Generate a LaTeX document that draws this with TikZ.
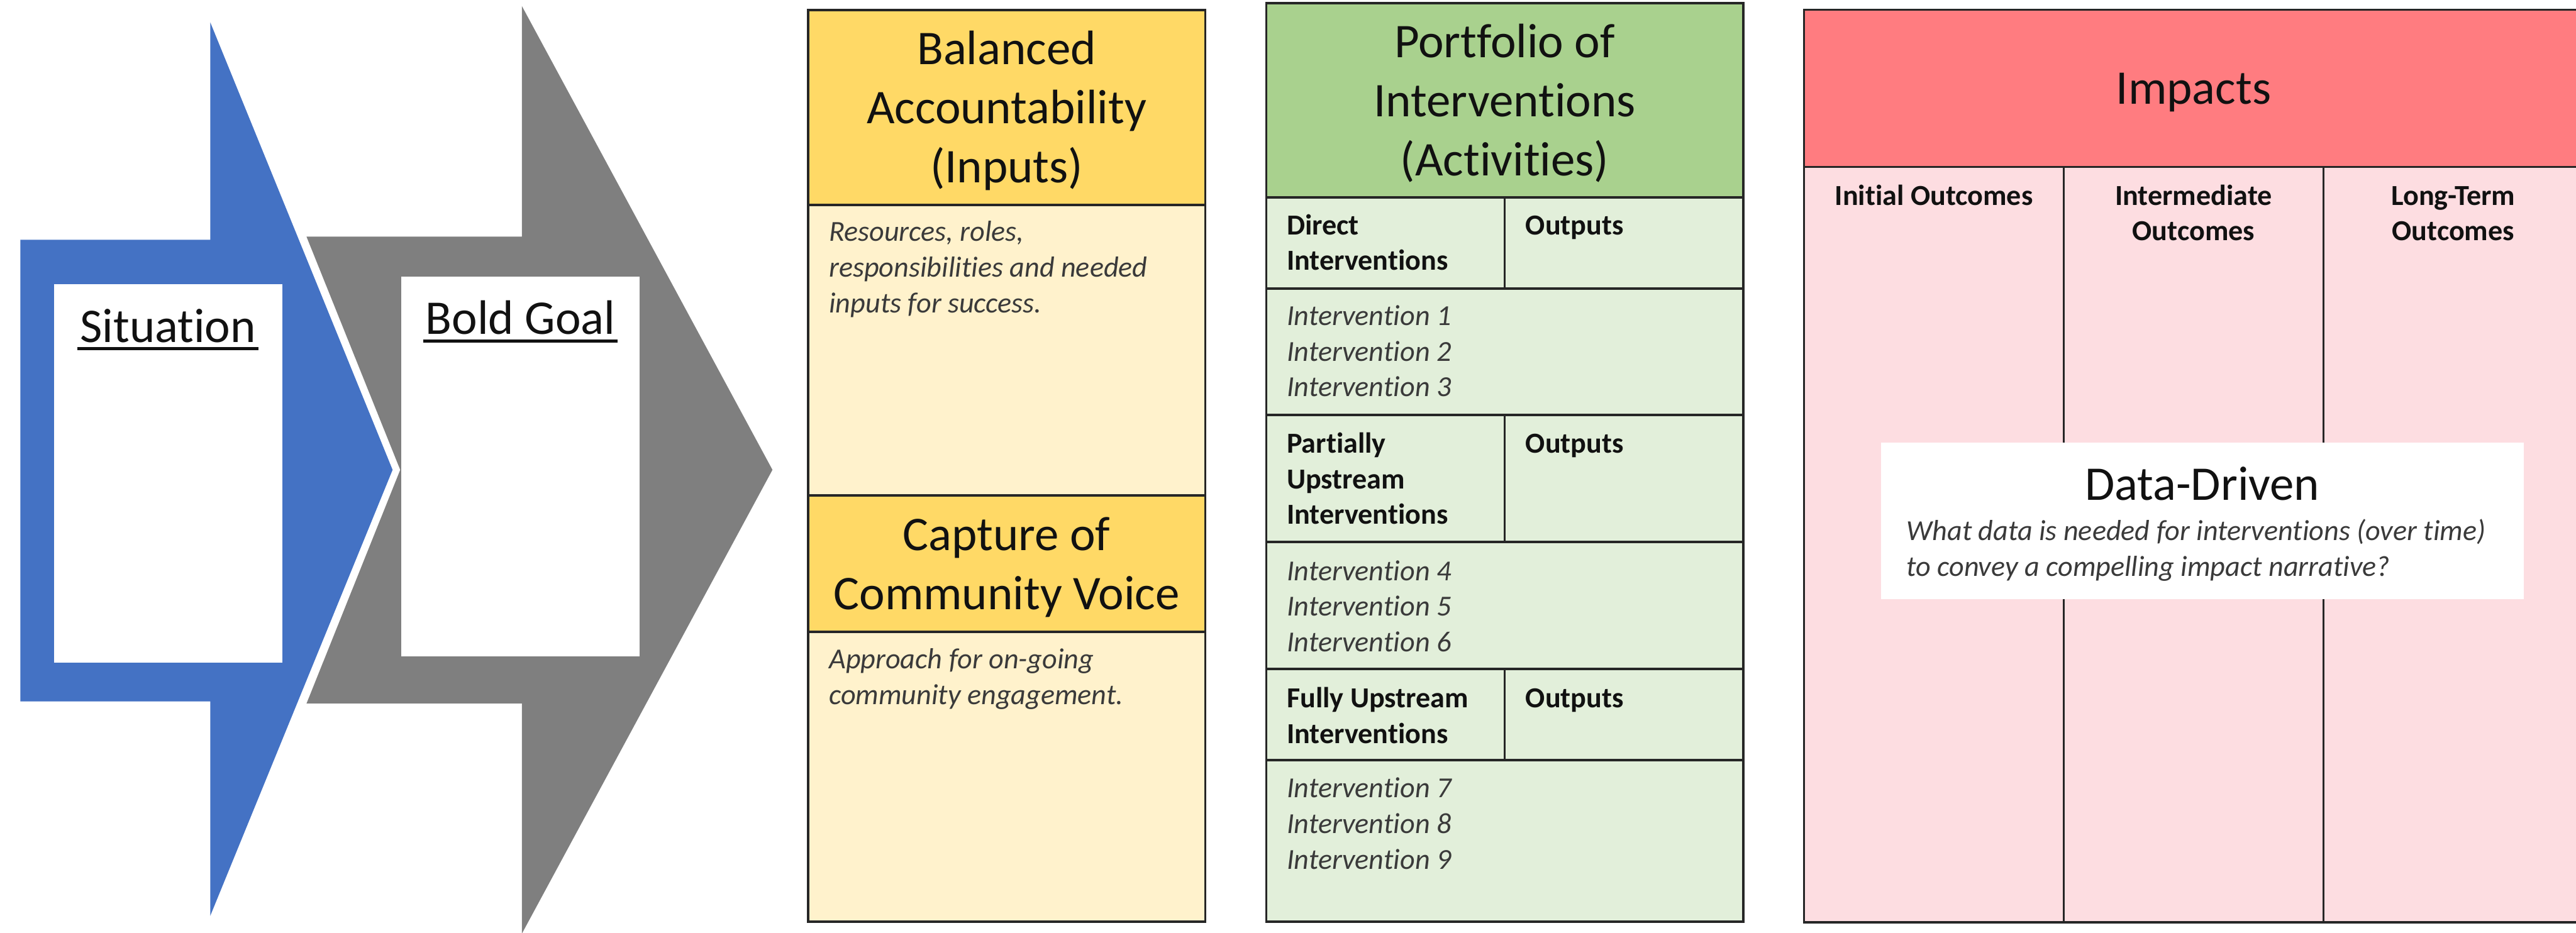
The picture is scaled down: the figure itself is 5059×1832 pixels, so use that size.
\documentclass[tikz,border=0pt]{standalone}
\usepackage{fontspec}
\setmainfont{Carlito}[Ligatures=NoCommon]
\usetikzlibrary{positioning}

\definecolor{arrowblue}{HTML}{4472C4}
\definecolor{arrowgray}{HTML}{7F7F7F}
\definecolor{inputhead}{HTML}{FFD966}
\definecolor{inputbody}{HTML}{FFF2CC}
\definecolor{activhead}{HTML}{A9D18E}
\definecolor{activbody}{HTML}{E2EFDA}
\definecolor{impacthead}{HTML}{FF7C80}
\definecolor{impactbody}{HTML}{FDDDE1}
\definecolor{edgeline}{HTML}{262626}
\definecolor{ink}{HTML}{111111}
\definecolor{softink}{HTML}{3A3A3A}

\tikzstyle{cell} = [rectangle, draw=edgeline, line width=4.5pt, inner sep=0pt, outer sep=0pt]
\tikzstyle{card} = [rectangle, fill=white, inner sep=0pt, outer sep=0pt, anchor=north west]
% multi-line texts sit on the baseline of their last line
\tikzstyle{headtext} = [inner sep=0pt, font=\fontsize{95}{116}\selectfont, text=ink, align=center, anchor=base]
\tikzstyle{coltext} = [inner sep=0pt, font=\fontsize{57}{70}\selectfont\bfseries, text=ink, align=center, anchor=base]
\tikzstyle{tagtext} = [inner sep=0pt, font=\fontsize{57}{70}\selectfont\bfseries, text=ink, align=left, anchor=base west]
\tikzstyle{notetext} = [inner sep=0pt, font=\fontsize{57}{70}\selectfont\itshape, text=softink, align=left, anchor=base west]
\tikzstyle{uline} = [draw=ink, line width=7pt]

\begin{document}
\begin{tikzpicture}[x=1pt, y=-1pt]
    \useasboundingbox (0,0) rectangle (5059,1832);
    \fill[white] (0,0) rectangle (5059,1832);

    % the two arrows
    \fill[arrowblue] (40,471) -- (413,471) -- (413,44) -- (771,923) -- (413,1799) -- (413,1378) -- (40,1378) -- cycle;
    \fill[arrowgray] (602,465) -- (1025,465) -- (1025,12) -- (1517,923) -- (1025,1834) -- (1025,1382) -- (602,1382) -- (786,923) -- cycle;

    \node[card, minimum width=449pt, minimum height=744pt] (sitcard)  at (106,558) {};
    \node[card, minimum width=468pt, minimum height=746pt] (goalcard) at (788,543) {};
    \node[headtext] (sit)  at (330,672)  {Situation};
    \node[headtext] (goal) at (1022,657) {Bold Goal};
    \draw[uline] ([xshift=-5pt, yshift=-13pt]sit.base west)  -- ([xshift=5pt, yshift=-13pt]sit.base east);
    \draw[uline] ([xshift=-5pt, yshift=-13pt]goal.base west) -- ([xshift=5pt, yshift=-13pt]goal.base east);

    % inputs
    \node[cell, fill=inputhead, anchor=north west, minimum width=780pt, minimum height=383pt] (inphead) at (1587,20) {};
    \node[cell, fill=inputbody, minimum width=780pt, minimum height=570pt, below=0pt of inphead]   (inpbody)   {};
    \node[cell, fill=inputhead, minimum width=780pt, minimum height=268pt, below=0pt of inpbody]   (voicehead) {};
    \node[cell, fill=inputbody, minimum width=780pt, minimum height=570pt, below=0pt of voicehead] (voicebody) {};

    \node[headtext] (inptitle)   at (1977,359)  {Balanced\\Accountability\\(Inputs)};
    \node[headtext] (voicetitle) at (1977,1197) {Capture of\\Community Voice};
    \node[notetext] (inpnote)    at (1628,614)  {Resources, roles,\\responsibilities and needed\\inputs for success.};
    \node[notetext] (voicenote)  at (1628,1384) {Approach for on-going\\community engagement.};

    % activities
    \node[cell, fill=activhead, anchor=north west, minimum width=937pt, minimum height=382pt] (acthead) at (2487,6) {};
    \node[cell, fill=activbody, minimum width=468pt, minimum height=179pt, below right=0pt and 0pt of acthead.south west]     (direct)      {};
    \node[cell, fill=activbody, minimum width=469pt, minimum height=179pt, right=0pt of direct]                              (directout)   {};
    \node[cell, fill=activbody, minimum width=937pt, minimum height=248pt, below right=0pt and 0pt of direct.south west]      (directlist)  {};
    \node[cell, fill=activbody, minimum width=468pt, minimum height=250pt, below right=0pt and 0pt of directlist.south west]  (partial)     {};
    \node[cell, fill=activbody, minimum width=469pt, minimum height=250pt, right=0pt of partial]                             (partialout)  {};
    \node[cell, fill=activbody, minimum width=937pt, minimum height=249pt, below right=0pt and 0pt of partial.south west]     (partiallist) {};
    \node[cell, fill=activbody, minimum width=468pt, minimum height=179pt, below right=0pt and 0pt of partiallist.south west] (fully)       {};
    \node[cell, fill=activbody, minimum width=469pt, minimum height=179pt, right=0pt of fully]                               (fullyout)    {};
    \node[cell, fill=activbody, minimum width=937pt, minimum height=318pt, below right=0pt and 0pt of fully.south west]       (fullylist)   {};

    \node[headtext] (acttitle)      at (2955,345)  {Portfolio of\\Interventions\\(Activities)};
    \node[tagtext]  (directtag)     at (2527,531)  {Direct\\Interventions};
    \node[tagtext]  (directouttag)  at (2996,461)  {Outputs};
    \node[notetext] (directitems)   at (2527,779)  {Intervention 1\\Intervention 2\\Intervention 3};
    \node[tagtext]  (partialtag)    at (2527,1030) {Partially\\Upstream\\Interventions};
    \node[tagtext]  (partialouttag) at (2996,890)  {Outputs};
    \node[notetext] (partialitems)  at (2527,1280) {Intervention 4\\Intervention 5\\Intervention 6};
    \node[tagtext]  (fullytag)      at (2527,1460) {Fully Upstream\\Interventions};
    \node[tagtext]  (fullyouttag)   at (2996,1390) {Outputs};
    \node[notetext] (fullyitems)    at (2527,1707) {Intervention 7\\Intervention 8\\Intervention 9};

    % impacts
    \node[cell, fill=impacthead, anchor=north west, minimum width=1530pt, minimum height=309pt] (imphead) at (3543,19) {};
    \node[cell, fill=impactbody, minimum width=510pt, minimum height=1484pt, below right=0pt and 0pt of imphead.south west] (initial)      {};
    \node[cell, fill=impactbody, minimum width=510pt, minimum height=1484pt, right=0pt of initial]                         (intermediate) {};
    \node[cell, fill=impactbody, minimum width=510pt, minimum height=1484pt, right=0pt of intermediate]                    (longterm)     {};

    \node[headtext] (imptitle)        at (4308,204) {Impacts};
    \node[coltext]  (initialtag)      at (3798,403) {Initial Outcomes};
    \node[coltext]  (intermediatetag) at (4308,473) {Intermediate\\Outcomes};
    \node[coltext]  (longtermtag)     at (4818,473) {Long-Term\\Outcomes};

    \node[card, minimum width=1262pt, minimum height=307pt] (datacard) at (3694,870) {};
    \node[headtext] (datatitle)    at (4325,982)  {Data-Driven};
    \node[notetext] (dataquestion) at (3744,1132) {What data is needed for interventions (over time)\\to convey a compelling impact narrative?};
\end{tikzpicture}
\end{document}
